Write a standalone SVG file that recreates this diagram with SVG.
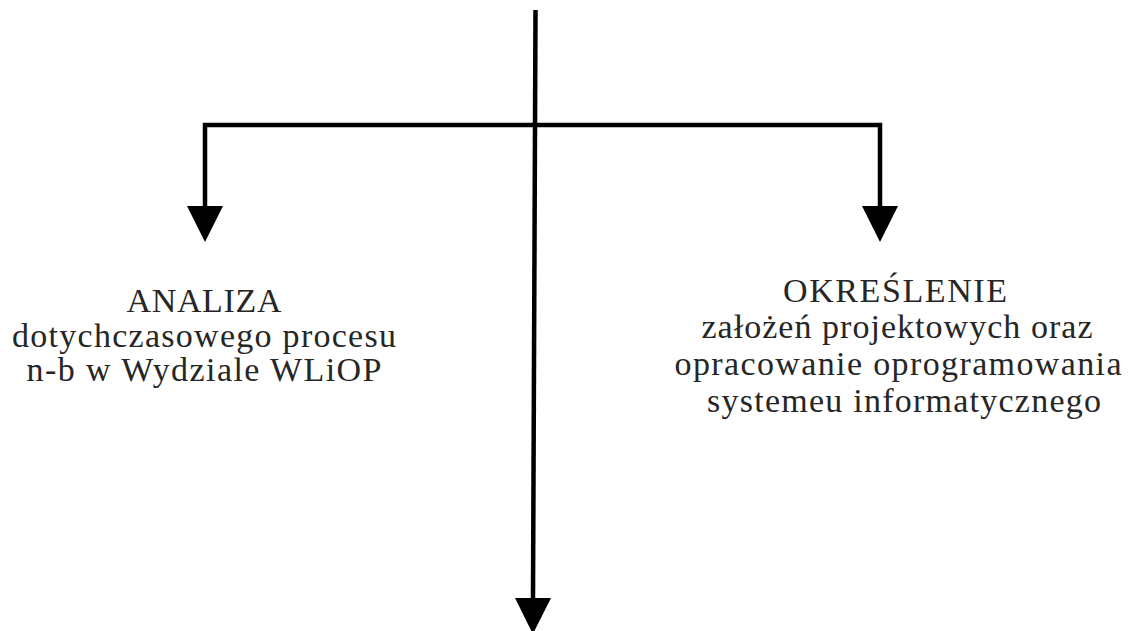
<svg xmlns="http://www.w3.org/2000/svg" width="1129" height="631" viewBox="0 0 1129 631">
<style>
.bg{fill:#ffffff}
.ln{fill:none;stroke:#000;stroke-width:4.5;stroke-linejoin:miter;stroke-linecap:butt}
.tx{font-family:"Liberation Serif","Times New Roman",serif;font-size:34px;fill:#262626;text-anchor:middle}
</style>
<defs>
<marker id="ah" markerUnits="userSpaceOnUse" markerWidth="36" markerHeight="36" refX="0" refY="18" orient="auto" viewBox="0 0 36 36">
<path d="M0,0 L36,18 L0,36 Z" fill="#000"/>
</marker>
</defs>
<rect class="bg" x="0" y="0" width="1129" height="631"/>
<g id="connectors">
<path class="ln" d="M535.5,10 L533,598" marker-end="url(#ah)"/>
<path class="ln" d="M535,125 H205 V206" marker-end="url(#ah)"/>
<path class="ln" d="M535,125 H880 V206" marker-end="url(#ah)"/>
</g>
<g id="node-analiza">
<text class="tx" x="204" y="312" textLength="155" lengthAdjust="spacing">ANALIZA</text>
<text class="tx" x="204" y="347" textLength="384" lengthAdjust="spacing">dotychczasowego procesu</text>
<text class="tx" x="204" y="381" textLength="355" lengthAdjust="spacing">n-b w Wydziale WLiOP</text>
</g>
<g id="node-okreslenie">
<text class="tx" x="895" y="302" textLength="224" lengthAdjust="spacing">OKREŚLENIE</text>
<text class="tx" x="897" y="338" textLength="391" lengthAdjust="spacing">założeń projektowych oraz</text>
<text class="tx" x="898" y="375" textLength="447" lengthAdjust="spacing">opracowanie oprogramowania</text>
<text class="tx" x="904" y="412" textLength="394" lengthAdjust="spacing">systemeu informatycznego</text>
</g>
</svg>
